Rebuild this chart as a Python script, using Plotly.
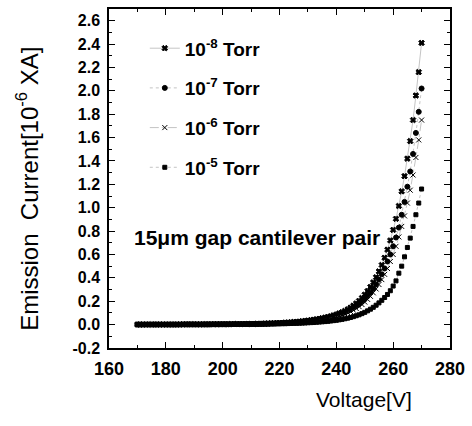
import plotly.graph_objects as go

voltage = list(range(170, 271))

torr_1e8 = [
    0.001, 0.001, 0.001, 0.001, 0.001, 0.001, 0.001, 0.001, 0.001, 0.001,
    0.001, 0.001, 0.001, 0.001, 0.001, 0.002, 0.002, 0.002, 0.002, 0.002,
    0.002, 0.002, 0.002, 0.002, 0.002, 0.002, 0.003, 0.003, 0.003, 0.003,
    0.003, 0.003, 0.003, 0.004, 0.004, 0.004, 0.004, 0.005, 0.005, 0.005,
    0.006, 0.006, 0.007, 0.007, 0.008, 0.009, 0.010, 0.011, 0.012, 0.013,
    0.014, 0.015, 0.017, 0.018, 0.020, 0.022, 0.024, 0.026, 0.029, 0.032,
    0.035, 0.038, 0.042, 0.046, 0.050, 0.055, 0.060, 0.066, 0.072, 0.079,
    0.087, 0.096, 0.106, 0.117, 0.130, 0.145, 0.162, 0.181, 0.203, 0.228,
    0.256, 0.287, 0.322, 0.361, 0.405, 0.455, 0.510, 0.572, 0.641, 0.720,
    0.810, 0.905, 1.015, 1.140, 1.270, 1.420, 1.570, 1.750, 1.960, 2.160,
    2.410,
]

torr_1e7 = [
    0.001, 0.001, 0.001, 0.001, 0.001, 0.001, 0.001, 0.001, 0.001, 0.001,
    0.001, 0.001, 0.001, 0.001, 0.001, 0.001, 0.002, 0.002, 0.002, 0.002,
    0.002, 0.002, 0.002, 0.002, 0.002, 0.002, 0.002, 0.003, 0.003, 0.003,
    0.003, 0.003, 0.003, 0.003, 0.004, 0.004, 0.004, 0.004, 0.005, 0.005,
    0.005, 0.006, 0.006, 0.007, 0.007, 0.008, 0.009, 0.010, 0.010, 0.011,
    0.012, 0.013, 0.014, 0.016, 0.017, 0.019, 0.021, 0.023, 0.025, 0.027,
    0.030, 0.033, 0.036, 0.040, 0.044, 0.048, 0.053, 0.058, 0.064, 0.070,
    0.077, 0.085, 0.094, 0.104, 0.115, 0.128, 0.142, 0.158, 0.175, 0.195,
    0.218, 0.244, 0.273, 0.306, 0.343, 0.385, 0.430, 0.480, 0.540, 0.600,
    0.670, 0.745, 0.830, 0.940, 1.050, 1.180, 1.310, 1.460, 1.640, 1.820,
    2.020,
]

torr_1e6 = [
    0.001, 0.001, 0.001, 0.001, 0.001, 0.001, 0.001, 0.001, 0.001, 0.001,
    0.001, 0.001, 0.001, 0.001, 0.001, 0.001, 0.002, 0.002, 0.002, 0.002,
    0.002, 0.002, 0.002, 0.002, 0.002, 0.002, 0.002, 0.002, 0.003, 0.003,
    0.003, 0.003, 0.003, 0.003, 0.003, 0.004, 0.004, 0.004, 0.004, 0.005,
    0.005, 0.005, 0.006, 0.006, 0.007, 0.007, 0.008, 0.008, 0.009, 0.010,
    0.011, 0.012, 0.013, 0.014, 0.015, 0.017, 0.018, 0.020, 0.022, 0.024,
    0.026, 0.029, 0.032, 0.035, 0.038, 0.042, 0.046, 0.051, 0.056, 0.062,
    0.068, 0.075, 0.083, 0.092, 0.101, 0.112, 0.124, 0.138, 0.154, 0.172,
    0.193, 0.216, 0.242, 0.272, 0.305, 0.343, 0.385, 0.430, 0.480, 0.540,
    0.600, 0.670, 0.750, 0.840, 0.930, 1.040, 1.150, 1.280, 1.430, 1.580,
    1.750,
]

torr_1e5 = [
    0.000, 0.000, 0.000, 0.001, 0.001, 0.001, 0.001, 0.001, 0.001, 0.001,
    0.001, 0.001, 0.001, 0.001, 0.001, 0.001, 0.001, 0.001, 0.001, 0.001,
    0.001, 0.001, 0.001, 0.001, 0.002, 0.002, 0.002, 0.002, 0.002, 0.002,
    0.002, 0.002, 0.002, 0.002, 0.003, 0.003, 0.003, 0.003, 0.003, 0.003,
    0.004, 0.004, 0.004, 0.004, 0.005, 0.005, 0.005, 0.006, 0.006, 0.007,
    0.007, 0.008, 0.008, 0.009, 0.010, 0.011, 0.011, 0.012, 0.013, 0.014,
    0.016, 0.017, 0.018, 0.020, 0.022, 0.024, 0.026, 0.028, 0.031, 0.034,
    0.037, 0.041, 0.045, 0.050, 0.055, 0.061, 0.068, 0.076, 0.084, 0.094,
    0.105, 0.118, 0.132, 0.148, 0.166, 0.186, 0.208, 0.232, 0.258, 0.290,
    0.330, 0.374, 0.440, 0.500, 0.580, 0.660, 0.740, 0.840, 0.940, 1.040,
    1.160,
]

series_names = [
    "10<sup>-8</sup> Torr",
    "10<sup>-7</sup> Torr",
    "10<sup>-6</sup> Torr",
    "10<sup>-5</sup> Torr",
]
series_values = [torr_1e8, torr_1e7, torr_1e6, torr_1e5]
marker_symbols = ["x", "circle", "x-thin-open", "square"]
marker_sizes = [5, 5, 5, 4]
line_dashes = ["solid", "dot", "dashdot", "dot"]

x_ticks = [160, 180, 200, 220, 240, 260, 280]
y_ticks = [-0.2, 0.0, 0.2, 0.4, 0.6, 0.8, 1.0, 1.2, 1.4, 1.6, 1.8, 2.0, 2.2, 2.4, 2.6]
y_tick_text = ["%.1f" % v for v in y_ticks]

FONT = "Liberation Sans, Arial, sans-serif"

fig = go.Figure()
for name, vals, sym, sz, dash in zip(series_names, series_values, marker_symbols,
                                     marker_sizes, line_dashes):
    fig.add_trace(go.Scatter(
        x=voltage, y=vals, name=name, legendgroup=name,
        mode="lines+markers",
        line=dict(color="#888888", width=0.5, dash=dash),
        marker=dict(symbol=sym, size=sz, color="black",
                    line=dict(color="black", width=1.0)),
    ))

axis_common = dict(
    showline=True, linecolor="black", linewidth=1.5, mirror="ticks",
    ticks="inside", tickcolor="black", tickwidth=1.2, ticklen=6,
    showgrid=False, zeroline=False,
)

fig.update_xaxes(
    range=[160, 280], tickvals=x_ticks,
    tickfont=dict(family=FONT, size=18, color="black", weight="bold"),
    minor=dict(dtick=10, ticklen=3, ticks="inside", tickcolor="black"),
    ticklabelstandoff=4,
    **axis_common,
)
fig.update_yaxes(
    range=[-0.2, 2.7], tickvals=y_ticks, ticktext=y_tick_text,
    tickfont=dict(family=FONT, size=16, color="black", weight="bold"),
    minor=dict(dtick=0.1, ticklen=3, ticks="inside", tickcolor="black"),
    ticklabelstandoff=4,
    **axis_common,
)

fig.add_annotation(
    text="Emission\u00a0 Current[10<sup>-6</sup> XA]",
    xref="paper", yref="paper", x=-0.24, y=0.47,
    xanchor="center", yanchor="middle", textangle=-90, showarrow=False,
    font=dict(family=FONT, size=24, color="black"),
)
fig.add_annotation(
    text="Voltage[V]",
    xref="paper", yref="paper", x=0.748, y=-0.151,
    xanchor="center", yanchor="middle", showarrow=False,
    font=dict(family=FONT, size=21, color="black"),
)
fig.add_annotation(
    text="15\u03bcm gap cantilever pair",
    xref="paper", yref="paper", x=0.067, y=0.326,
    xanchor="left", yanchor="middle", showarrow=False,
    font=dict(family=FONT, size=21, color="black", weight="bold"),
)

fig.update_layout(
    width=472, height=426,
    margin=dict(l=109, r=21, t=7, b=78),
    paper_bgcolor="white", plot_bgcolor="white",
    showlegend=True,
    legend=dict(
        x=0.105, y=0.94, xanchor="left", yanchor="top",
        bgcolor="rgba(0,0,0,0)", borderwidth=0,
        font=dict(family=FONT, size=19, color="black", weight="bold"),
        tracegroupgap=12,
    ),
)

fig.write_html("out.html")
